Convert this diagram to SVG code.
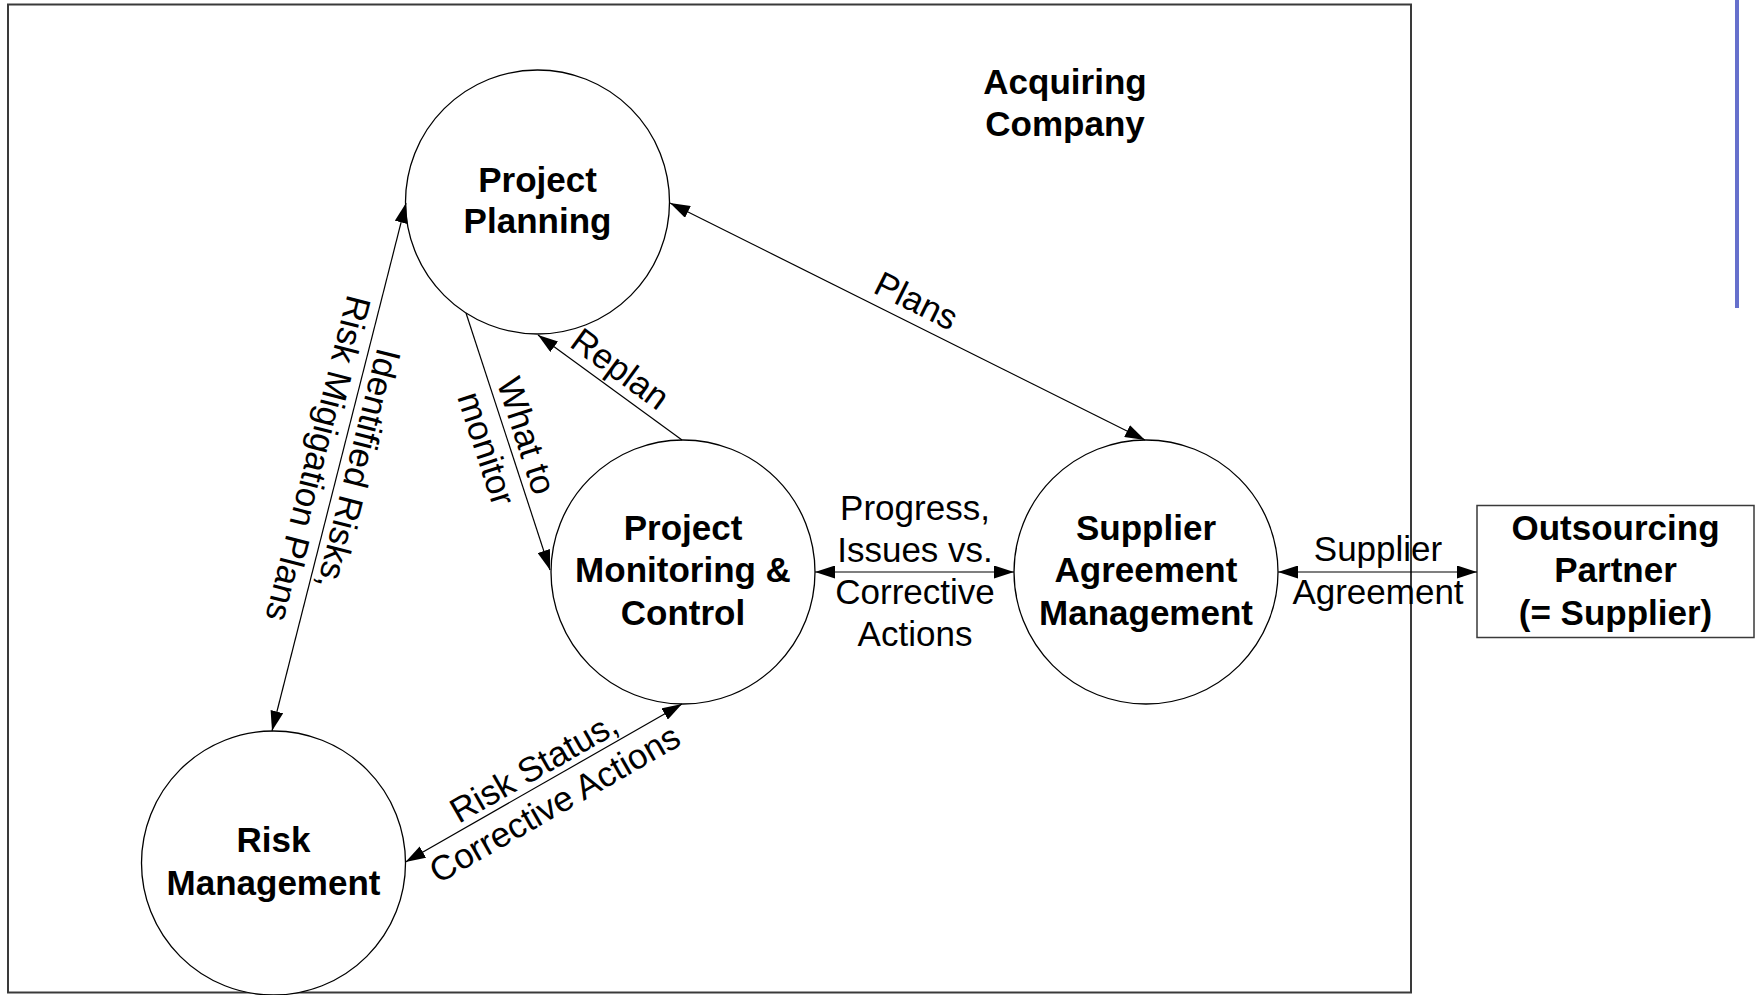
<svg xmlns="http://www.w3.org/2000/svg" width="1757" height="995" viewBox="0 0 1757 995">
<style>
  .node { fill: #fff; stroke: #000; stroke-width: 1.3; }
  .frame { fill: none; stroke: #3a3a3a; stroke-width: 2; }
  .box { fill: #fff; stroke: #3a3a3a; stroke-width: 1.5; }
  .title { font-family: "Liberation Sans", Arial, sans-serif; font-weight: bold; font-size: 35px; text-anchor: middle; fill: #000; }
  .lbl { font-family: "Liberation Sans", Arial, sans-serif; font-size: 35px; text-anchor: middle; fill: #000; }
  .edge { fill: none; stroke: #000; stroke-width: 1.2; }
</style>
<defs>
  <marker id="arrow" viewBox="0 0 20 13" refX="20" refY="6.5" markerWidth="20" markerHeight="13" markerUnits="userSpaceOnUse" orient="auto-start-reverse">
    <path d="M0,0 L20,6.5 L0,13 z" fill="#000"/>
  </marker>
</defs>
<rect width="1757" height="995" fill="#fff"/>

<g id="acquiring-company">
  <rect class="frame" x="8" y="4.5" width="1403" height="988"/>
  <text class="title" x="1065" y="94">Acquiring</text>
  <text class="title" x="1065" y="136">Company</text>
</g>

<line x1="1737" y1="0" x2="1737" y2="308" stroke="#6670CC" stroke-width="4"/>

<g id="project-planning">
  <circle class="node" cx="537.5" cy="202" r="132"/>
  <text class="title" x="537.5" y="191.5">Project</text>
  <text class="title" x="537.5" y="233">Planning</text>
</g>

<g id="project-monitoring-control">
  <circle class="node" cx="683" cy="572" r="132"/>
  <text class="title" x="683" y="539.5">Project</text>
  <text class="title" x="683" y="582">Monitoring &amp;</text>
  <text class="title" x="683" y="624.5">Control</text>
</g>

<g id="supplier-agreement-management">
  <circle class="node" cx="1146" cy="572" r="132"/>
  <text class="title" x="1146" y="539.5">Supplier</text>
  <text class="title" x="1146" y="582">Agreement</text>
  <text class="title" x="1146" y="624.5">Management</text>
</g>

<g id="risk-management">
  <circle class="node" cx="273.5" cy="863" r="132"/>
  <text class="title" x="273.5" y="852">Risk</text>
  <text class="title" x="273.5" y="894.5">Management</text>
</g>

<g id="outsourcing-partner">
  <rect class="box" x="1477" y="505.5" width="277" height="132"/>
  <text class="title" x="1615.5" y="539.5">Outsourcing</text>
  <text class="title" x="1615.5" y="582">Partner</text>
  <text class="title" x="1615.5" y="624.5">(= Supplier)</text>
</g>

<g id="connectors">
  <g id="edge-plans">
    <line class="edge" x1="670" y1="203" x2="1145" y2="440" marker-start="url(#arrow)" marker-end="url(#arrow)"/>
    <text class="lbl" transform="translate(916.6,300.3) rotate(26.4)" y="12.5">Plans</text>
  </g>
  <g id="edge-what-to-monitor">
    <line class="edge" x1="466" y1="313" x2="550" y2="570" marker-end="url(#arrow)"/>
    <g transform="translate(507,442) rotate(72)">
      <text class="lbl" x="0" y="-8.5">What to</text>
      <text class="lbl" x="0" y="33.5">monitor</text>
    </g>
  </g>
  <g id="edge-replan">
    <line class="edge" x1="682" y1="440" x2="538" y2="335" marker-end="url(#arrow)"/>
    <text class="lbl" transform="translate(620.5,368.3) rotate(36.2)" y="12.5">Replan</text>
  </g>
  <g id="edge-risks">
    <line class="edge" x1="406" y1="203" x2="272" y2="731" marker-start="url(#arrow)" marker-end="url(#arrow)"/>
    <g transform="translate(339,464) rotate(104.3)">
      <text class="lbl" x="0" y="-8.5">Identified Risks,</text>
      <text class="lbl" x="0" y="33.5">Risk Migigation Plans</text>
    </g>
  </g>
  <g id="edge-progress">
    <line class="edge" x1="815" y1="572" x2="1014" y2="572" marker-start="url(#arrow)" marker-end="url(#arrow)"/>
    <text class="lbl" x="915" y="520">Progress,</text>
    <text class="lbl" x="915" y="562">Issues vs.</text>
    <text class="lbl" x="915" y="604">Corrective</text>
    <text class="lbl" x="915" y="646">Actions</text>
  </g>
  <g id="edge-risk-status">
    <line class="edge" x1="405.5" y1="862" x2="682" y2="704" marker-start="url(#arrow)" marker-end="url(#arrow)"/>
    <g transform="translate(544,785) rotate(-29.8)">
      <text class="lbl" x="0" y="-8.5">Risk Status,</text>
      <text class="lbl" x="0" y="33.5">Corrective Actions</text>
    </g>
  </g>
  <g id="edge-supplier-agreement">
    <line class="edge" x1="1278" y1="572" x2="1477" y2="572" stroke="#555" marker-start="url(#arrow)" marker-end="url(#arrow)"/>
    <text class="lbl" x="1378" y="561">Supplier</text>
    <text class="lbl" x="1378" y="604">Agreement</text>
  </g>
</g>
</svg>
